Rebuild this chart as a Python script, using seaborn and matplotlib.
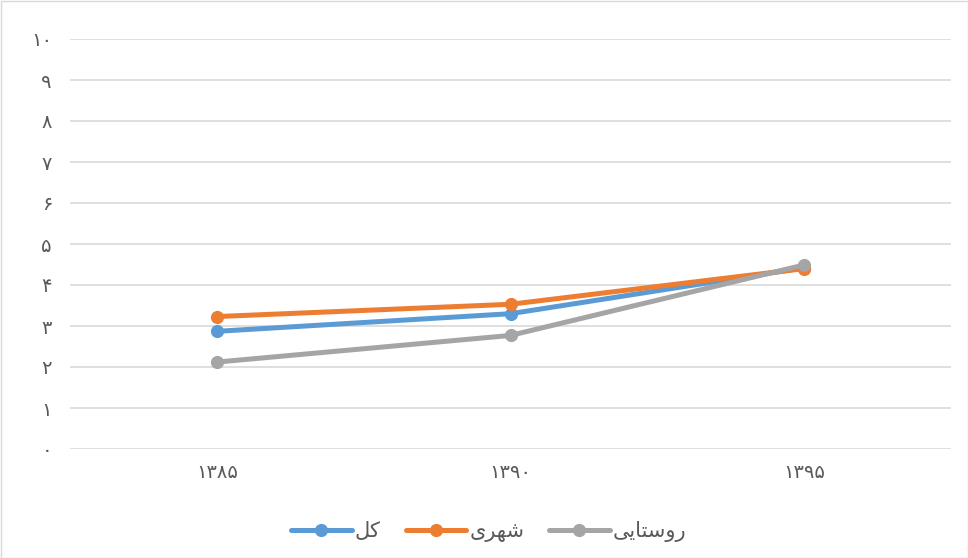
import pandas as pd
import numpy as np
import matplotlib
matplotlib.use("Agg")
import matplotlib.pyplot as plt
import seaborn as sns
from matplotlib.patches import Rectangle

# Persian labels written in shaped presentation forms, in visual (left-to-right) order
years = ["\u06f1\u06f3\u06f8\u06f5", "\u06f1\u06f3\u06f9\u06f0", "\u06f1\u06f3\u06f9\u06f5"]
series_names = ["\ufede\ufedb",                                  # کل
                "\ufeef\ufeae\ufeec\ufeb7",                      # شهری
                "\ufef0\ufef3\ufe8e\ufe98\ufeb3\ufeed\ufead"]    # روستایی
kol = [2.87, 3.30, 4.42]
shahri = [3.23, 3.53, 4.40]
rustaei = [2.12, 2.77, 4.49]
colors = ["#5B9BD5", "#ED7D31", "#A5A5A5"]
y_ticks = list(range(0, 11))
persian_digits = "\u06f0\u06f1\u06f2\u06f3\u06f4\u06f5\u06f6\u06f7\u06f8\u06f9"
y_labels = ["".join(persian_digits[int(c)] for c in str(v)) for v in y_ticks]

df = pd.DataFrame({
    "year": years * 3,
    "value": kol + shahri + rustaei,
    "series": [series_names[0]] * 3 + [series_names[1]] * 3 + [series_names[2]] * 3,
})

sns.set_style("white")
plt.rcParams["font.family"] = ["DejaVu Sans"]

fig = plt.figure(figsize=(9.68, 5.58), dpi=100)
ax = fig.add_axes([70 / 968, 1 - 449 / 558, 881 / 968, 410 / 558])

sns.lineplot(data=df, x="year", y="value", hue="series", hue_order=series_names,
             palette=colors, marker="o", markersize=9.5, markeredgewidth=0,
             linewidth=3.6, sort=False, ax=ax)

ax.set_xlim(-0.5, 2.5)
ax.set_ylim(0, 10)
ax.set_yticks(y_ticks)
ax.set_yticklabels(y_labels)
ax.yaxis.grid(True, color="#D9D9D9", linewidth=1.2)
ax.set_axisbelow(True)
for s in ax.spines.values():
    s.set_visible(False)
ax.tick_params(axis="y", length=0, pad=13, labelsize=14, labelcolor="#595959")
ax.tick_params(axis="x", length=0, pad=10, labelsize=14, labelcolor="#595959")
ax.set_xlabel("")
ax.set_ylabel("")

handles, labels = ax.get_legend_handles_labels()
ax.legend_.remove()
fig.legend(handles, labels, loc="center", bbox_to_anchor=(0.505, 1 - 532 / 558),
           ncol=3, frameon=False, fontsize=15, labelcolor="#595959",
           handlelength=2.9, columnspacing=1.2, handletextpad=0.15)

fig.add_artist(Rectangle((0.5 / 968, 0.5 / 558), 1 - 1 / 968, 1 - 1 / 558,
                         transform=fig.transFigure, fill=False,
                         edgecolor="#D9D9D9", linewidth=1))

fig.savefig("out.png", dpi=100, facecolor="white")
